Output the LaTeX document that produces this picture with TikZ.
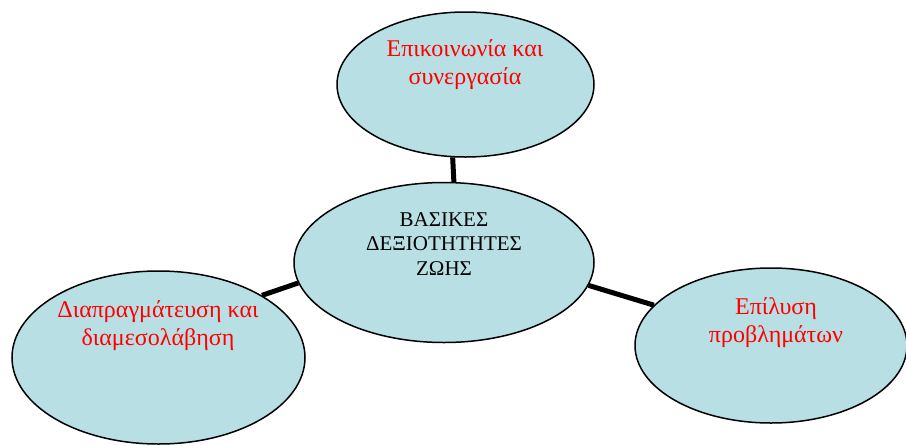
\documentclass[tikz,border=0pt]{standalone}
\usepackage{fontspec}
\setmainfont{Liberation Serif}
\usetikzlibrary{shapes.geometric,backgrounds}
\definecolor{fillblue}{RGB}{184,223,227}
\definecolor{txtred}{RGB}{255,0,0}
\tikzset{
  bubble/.style={ellipse, draw=black, line width=1.5pt, fill=fillblue, inner sep=0pt},
  conn/.style={draw=black, line width=5pt},
  redtxt/.style={text=txtred, font=\fontsize{24}{28}\selectfont, align=center, anchor=north, inner sep=0pt},
  blktxt/.style={text=black, font=\fontsize{21}{24.5}\selectfont, align=center, anchor=north, inner sep=0pt}
}
\begin{document}
\begin{tikzpicture}[x=1pt,y=-1pt]
\useasboundingbox (0,0) rectangle (906,445);
\node[bubble, minimum width=257pt, minimum height=145pt] (top) at (465.5,84.5) {};
\node[bubble, minimum width=300pt, minimum height=160pt] (ctr) at (444,262.5) {};
\node[bubble, minimum width=293pt, minimum height=173pt] (lft) at (158.5,357.5) {};
\node[bubble, minimum width=272pt, minimum height=155pt] (rgt) at (771,345.5) {};
\begin{scope}[on background layer]
\draw[conn] (ctr.83) -- (top.260.5);
\draw[conn] (ctr.188) -- (lft.31.7);
\draw[conn] (ctr.351.5) -- (rgt.161.7);
\end{scope}
\node[redtxt] (ttop) at (465,39) {Επικοινωνία και\\συνεργασία};
\node[blktxt] (tctr) at (444,212) {ΒΑΣΙΚΕΣ\\ΔΕΞΙΟΤΗΤΗΤΕΣ\\ΖΩΗΣ};
\node[redtxt] (tlft) at (158,300) {Διαπραγμάτευση και\\διαμεσολάβηση};
\node[redtxt] (trgt) at (776,297) {Επίλυση\\προβλημάτων};
\end{tikzpicture}
\end{document}
